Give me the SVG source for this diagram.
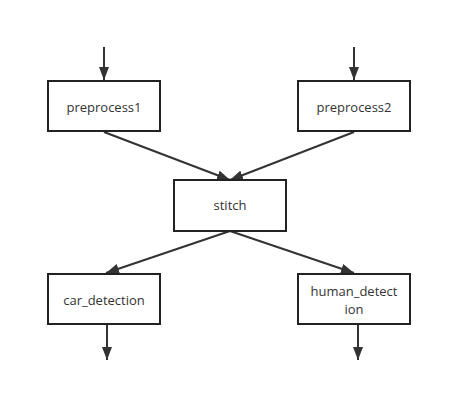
<svg xmlns="http://www.w3.org/2000/svg" width="473" height="420" viewBox="0 0 473 420">
<style>
.box{fill:#fff;stroke:#222;stroke-width:2}
.lbl{font-family:"Open Sans","Noto Sans",sans-serif;font-size:13px;fill:#333;text-anchor:middle}
.edge{stroke:#333;stroke-width:2;fill:none;marker-end:url(#ah)}
</style>
<defs>
<marker id="ah" markerUnits="userSpaceOnUse" markerWidth="13" markerHeight="10" refX="13" refY="5" orient="auto" viewBox="0 0 13 10">
<path d="M0,0 L13,5 L0,10 z" fill="#333"/>
</marker>
</defs>
<rect width="473" height="420" fill="#fff"/>
<g id="connectors">
<line class="edge" x1="104" y1="47" x2="104" y2="80"/>
<line class="edge" x1="354" y1="47" x2="354" y2="80"/>
<line class="edge" x1="104" y1="132" x2="230" y2="180"/>
<line class="edge" x1="354" y1="132" x2="230" y2="180"/>
<line class="edge" x1="230" y1="231" x2="106" y2="273"/>
<line class="edge" x1="230" y1="231" x2="354" y2="273"/>
<line class="edge" x1="107" y1="324" x2="107" y2="360"/>
<line class="edge" x1="358" y1="324" x2="358" y2="360"/>
</g>
<g id="preprocess1">
<rect class="box" x="48" y="81" width="112" height="50"/>
<text class="lbl" x="104" y="112">preprocess1</text>
</g>
<g id="preprocess2">
<rect class="box" x="298" y="81" width="112" height="50"/>
<text class="lbl" x="354" y="112">preprocess2</text>
</g>
<g id="stitch">
<rect class="box" x="174" y="180" width="112" height="51"/>
<text class="lbl" x="230" y="210">stitch</text>
</g>
<g id="car_detection">
<rect class="box" x="48" y="274" width="112" height="50"/>
<text class="lbl" x="104" y="305">car_detection</text>
</g>
<g id="human_detection">
<rect class="box" x="298" y="274" width="112" height="50"/>
<text class="lbl" x="354" y="296">human_detect</text>
<text class="lbl" x="354" y="314">ion</text>
</g>
</svg>
